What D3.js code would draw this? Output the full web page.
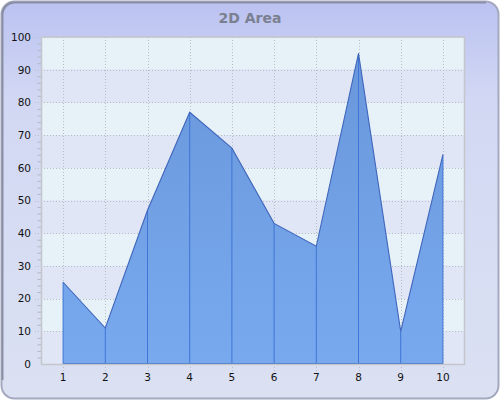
<!DOCTYPE html>
<html>
<head>
<meta charset="utf-8">
<script src="https://cdn.jsdelivr.net/npm/d3@7"></script>
<style>
  body { margin: 0; background: #ffffff; }
  text { font-family: "DejaVu Sans", Verdana, sans-serif; }
</style>
</head>
<body>
<div id="chart"></div>
<script>
// Chart data
var categories = ["1", "2", "3", "4", "5", "6", "7", "8", "9", "10"];
var values = [25, 11, 47, 77, 66, 43, 36, 95, 10, 64];
var y_ticks = [0, 10, 20, 30, 40, 50, 60, 70, 80, 90, 100];
var title = "2D Area";

var width = 500, height = 400;
var bounds = { left: 42, right: 464, top: 37, bottom: 364 };

var svg = d3.select("#chart").append("svg")
    .attr("width", width)
    .attr("height", height);

var defs = svg.append("defs");

var bg_grad = defs.append("linearGradient")
    .attr("id", "bg_grad").attr("x1", 0).attr("y1", 0).attr("x2", 0).attr("y2", 1);
bg_grad.append("stop").attr("offset", "0%").attr("stop-color", "#bbc2f1");
bg_grad.append("stop").attr("offset", "25%").attr("stop-color", "#d2d8f3");
bg_grad.append("stop").attr("offset", "100%").attr("stop-color", "#dbe1f2");

var area_grad = defs.append("linearGradient")
    .attr("id", "area_grad").attr("x1", 0).attr("y1", 0).attr("x2", 0).attr("y2", 1);
area_grad.append("stop").attr("offset", "0%").attr("stop-color", "#6a97dc");
area_grad.append("stop").attr("offset", "100%").attr("stop-color", "#78a9ee");

// Outer frame
svg.append("rect")
    .attr("x", 1.5).attr("y", 1.5)
    .attr("width", width - 3).attr("height", height - 3)
    .attr("rx", 13).attr("ry", 13)
    .attr("fill", "url(#bg_grad)")
    .attr("stroke", "#a4a9c0")
    .attr("stroke-width", 2);
svg.append("path")
    .attr("d", "M2.5,380 V14 A12,12 0 0 1 14,2.5 H486")
    .attr("fill", "none")
    .attr("stroke", "#8a8fa6")
    .attr("stroke-width", 2);

// Title
svg.append("text")
    .attr("x", width / 2)
    .attr("y", 23)
    .attr("text-anchor", "middle")
    .attr("font-size", 14)
    .attr("font-weight", "bold")
    .attr("fill", "#7a8090")
    .text(title);

// Scales
var x = d3.scaleBand()
    .domain(categories)
    .range([bounds.left, bounds.right]);
var y = d3.scaleLinear()
    .domain([0, 100])
    .range([bounds.bottom, bounds.top]);

var xc = function(d) { return x(d) + x.bandwidth() / 2; };

var plot = svg.append("g");

// Alternating bands
var bands = d3.range(0, 100, 10);
plot.selectAll("rect.band")
    .data(bands)
    .enter().append("rect")
        .attr("class", "band")
        .attr("x", bounds.left)
        .attr("y", function(d) { return y(d + 10); })
        .attr("width", bounds.right - bounds.left)
        .attr("height", function(d) { return y(d) - y(d + 10); })
        .attr("fill", function(d) { return (d / 10) % 2 == 0 ? "#e0e6f5" : "#e7f1f8"; });

// Grid lines
plot.selectAll("line.hgrid")
    .data(y_ticks.slice(1))
    .enter().append("line")
        .attr("x1", bounds.left - 7).attr("x2", bounds.right)
        .attr("y1", function(d) { return Math.round(y(d)) + 0.5; })
        .attr("y2", function(d) { return Math.round(y(d)) + 0.5; })
        .attr("stroke", "#b8bcc4")
        .attr("stroke-dasharray", "1,2");

plot.selectAll("line.vgrid")
    .data(categories)
    .enter().append("line")
        .attr("x1", function(d) { return Math.round(xc(d)) + 0.5; })
        .attr("x2", function(d) { return Math.round(xc(d)) + 0.5; })
        .attr("y1", bounds.top).attr("y2", bounds.bottom + 8)
        .attr("stroke", "#b8bcc4")
        .attr("stroke-dasharray", "1,2");

// Area
var area = d3.area()
    .x(function(d, i) { return xc(categories[i]); })
    .y0(y(0))
    .y1(function(d) { return y(d); });

plot.append("path")
    .datum(values)
    .attr("d", area)
    .attr("fill", "url(#area_grad)");

// Drop lines
plot.selectAll("line.drop")
    .data(values)
    .enter().append("line")
        .attr("x1", function(d, i) { return xc(categories[i]); })
        .attr("x2", function(d, i) { return xc(categories[i]); })
        .attr("y1", function(d) { return y(d); })
        .attr("y2", y(0))
        .attr("stroke", "#3d76d6")
        .attr("stroke-width", 1);

var line = d3.line()
    .x(function(d, i) { return xc(categories[i]); })
    .y(function(d) { return y(d); });

plot.append("path")
    .datum(values)
    .attr("d", line)
    .attr("fill", "none")
    .attr("stroke", "#3f66bc")
    .attr("stroke-width", 1.1);

// Baseline of the area
plot.append("line")
    .attr("x1", xc(categories[0])).attr("x2", xc(categories[categories.length - 1]))
    .attr("y1", y(0) - 0.5).attr("y2", y(0) - 0.5)
    .attr("stroke", "#3d6ec8");

// Axes
var y_axis = d3.axisLeft(y)
    .tickValues(d3.range(0, 101, 2).filter(function(d) { return d % 10 != 0; }))
    .tickSize(4)
    .tickFormat("");
var y_axis_g = svg.append("g")
    .attr("transform", "translate(" + (bounds.left - 0.5) + ",0)")
    .call(y_axis);
y_axis_g.select(".domain").remove();
y_axis_g.selectAll(".tick line").attr("stroke", "#b4b8c4");

var y_labels = d3.axisLeft(y)
    .tickValues(y_ticks)
    .tickSize(0)
    .tickPadding(11);
var y_labels_g = svg.append("g")
    .attr("transform", "translate(" + bounds.left + ",0)")
    .call(y_labels);
y_labels_g.select(".domain").remove();
y_labels_g.selectAll("text")
    .attr("font-size", 10.5)
    .attr("font-family", "DejaVu Sans, Verdana, sans-serif")
    .attr("fill", "#111");

var x_axis = d3.axisBottom(x)
    .tickSize(0)
    .tickPadding(10);
var x_axis_g = svg.append("g")
    .attr("transform", "translate(0," + bounds.bottom + ")")
    .call(x_axis);
x_axis_g.select(".domain").remove();
x_axis_g.selectAll("text")
    .attr("font-size", 10.5)
    .attr("font-family", "DejaVu Sans, Verdana, sans-serif")
    .attr("fill", "#111");

// Plot frame
svg.append("path")
    .attr("d", "M" + (bounds.left - 0.5) + "," + bounds.top +
        " V" + (bounds.bottom + 0.5) + " H" + (bounds.right + 0.5) + " V" + bounds.top +
        " H" + (bounds.left - 0.5))
    .attr("fill", "none")
    .attr("stroke", "#c4c6cc")
    .attr("stroke-width", 1.5);
</script>
</body>
</html>
